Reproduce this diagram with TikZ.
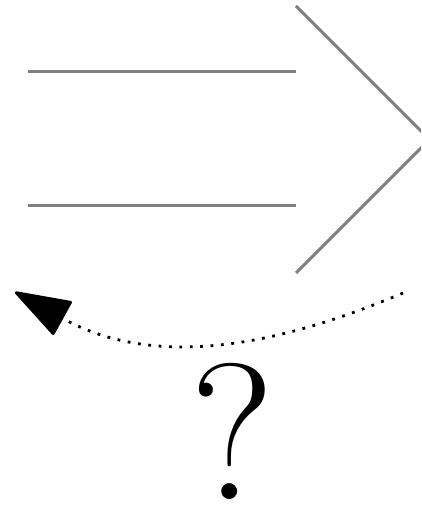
\documentclass[tikz,border=0pt]{standalone}
\usepackage{xcolor}
\usepackage{tikz}
\usetikzlibrary{arrows.meta}
\definecolor{impgray}{HTML}{808080}
\definecolor{impink}{HTML}{000000}

\begin{document}
\begin{tikzpicture}[x=1pt,y=1pt,
    impline/.style={impgray, line width=3pt},
    dotline/.style={impink, line width=2.8pt, dash pattern=on 2.8pt off 7.6pt}]
  \useasboundingbox (0,0) rectangle (421,506);
  \clip (0,0) rectangle (421,506);

  % Implication sign
  \draw[impline] (28,434) -- (296,434);
  \draw[impline] (28,300) -- (296,300);
  \draw[impline] (296,500) -- (429.5,366.5) -- (296,233);

  % Reverse direction
  \coordinate (revstart) at (403,213);
  \coordinate (revend) at (15,214);
  \draw[dotline, -{Triangle[length=58pt, width=39pt, round]}]
    (revstart) to[out=203, in=-29] (revend);

  % Question
  \node[anchor=base, inner sep=0pt, font=\fontsize{194}{194}\selectfont, text=impink] (qmark) at (232,6) {?};
\end{tikzpicture}
\end{document}
